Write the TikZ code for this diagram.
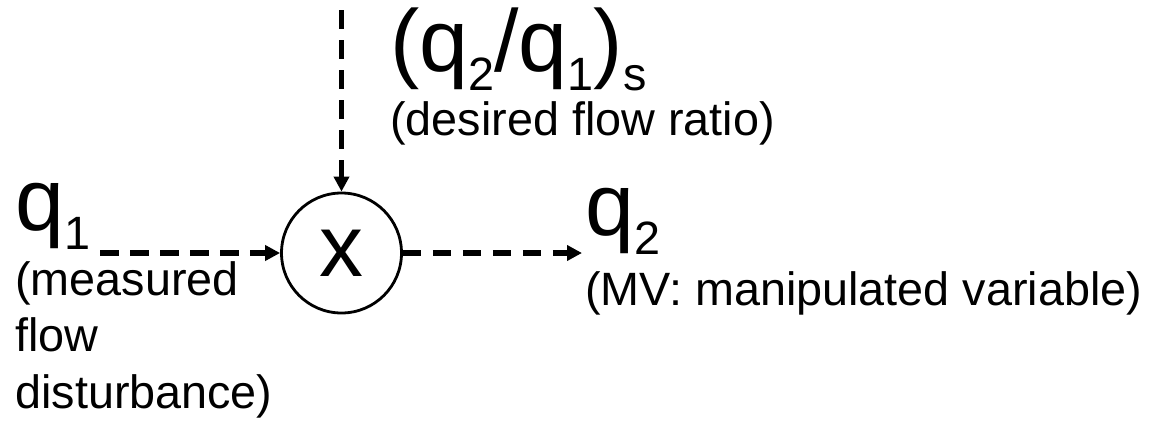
\documentclass[tikz,border=0pt]{standalone}
\usepackage{fontspec}
\setmainfont{Liberation Sans}
\usepackage{tikz}
\usetikzlibrary{positioning,arrows.meta}

\newcommand{\bigtxt}{\fontsize{50}{60}\selectfont}
\newcommand{\smalltxt}{\fontsize{26.6}{32.3}\selectfont}
\newcommand{\lowsub}[1]{\raisebox{-11pt}{\smalltxt #1}}

\begin{document}
\begin{tikzpicture}[
    flow/.style={line width=3.2pt,dash pattern=on 0.37cm off 0.23cm,-{Triangle[length=0.3cm,width=0.3cm]}},
    lbl/.style={inner sep=0pt,anchor=base west},
]
\useasboundingbox (0,0) rectangle (23.1,-8.4);
% multiplier
\node[circle,draw,line width=1.6pt,minimum size=2.4cm,inner sep=0pt,font=\bigtxt] (mult) at (6.83,-5.06) {x};
% labels
\node[lbl] (q1) at (0.3,-4.6) {\bigtxt q\lowsub{1}};
\node[inner sep=0pt,anchor=north west,align=left,font=\smalltxt] (q1txt) at (0.3,-5.22) {(measured\\flow\\disturbance)};
\node[lbl] (ratio) at (7.8,-1.42) {\bigtxt (q\lowsub{2}/q\lowsub{1})\lowsub{s}};
\node[lbl,font=\smalltxt] (ratiotxt) at (7.8,-2.7) {(desired flow ratio)};
\node[lbl] (q2) at (11.7,-4.7) {\bigtxt q\lowsub{2}};
\node[lbl,font=\smalltxt] (q2txt) at (11.7,-6.1) {(MV: manipulated variable)};
% connectors
\coordinate (in) at (2.0,-5.06);
\coordinate (out) at (11.64,-5.06);
\coordinate (sp) at (6.83,-0.2);
\draw[flow] (in) -- (mult.west);
\draw[flow] (mult.east) -- (out);
\draw[flow] (sp) -- (mult.north);
\end{tikzpicture}
\end{document}
